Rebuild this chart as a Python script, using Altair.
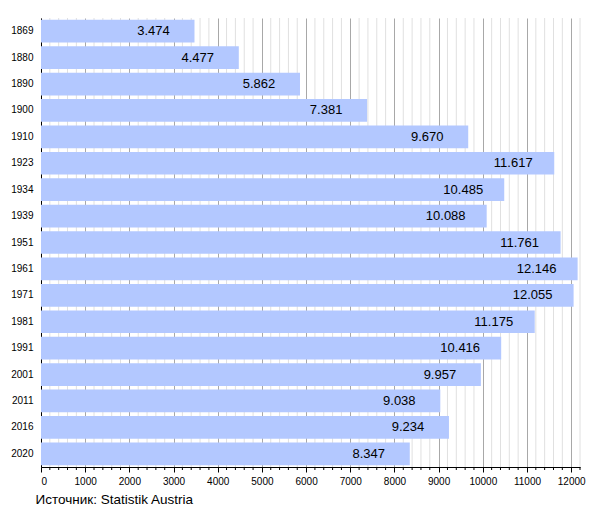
import altair as alt
import pandas as pd

years = ["1869", "1880", "1890", "1900", "1910", "1923", "1934", "1939", "1951",
         "1961", "1971", "1981", "1991", "2001", "2011", "2016", "2020"]
population = [3474, 4477, 5862, 7381, 9670, 11617, 10485, 10088, 11761,
              12146, 12055, 11175, 10416, 9957, 9038, 9234, 8347]
major_ticks = list(range(0, 12001, 1000))
minor_ticks = [v for v in range(0, 12201, 200) if v % 1000 != 0]
source_text = "Источник: Statistik Austria"

W, H = 539, 449

df = pd.DataFrame({
    "year": years,
    "pop": population,
    "label": [f"{v:,}".replace(",", ".") for v in population],
})
minor_df = pd.DataFrame({"tick": minor_ticks})

FONT = "Liberation Sans"
xscale = alt.Scale(domain=[0, 12200], nice=False, zero=True)
xaxis = alt.Axis(values=major_ticks, format="d",
                 title=source_text, titleFont=FONT, titleFontSize=13.5,
                 titleFontWeight="normal", titleColor="black",
                 titleAnchor="start", titleAlign="left", titleX=-6, titleY=32,
                 titleBaseline="middle",
                 grid=True, gridColor="#a8a8a8", gridWidth=1,
                 tickSize=5, tickColor="black", domainColor="black",
                 labelFont=FONT, labelFontSize=10, labelColor="black",
                 labelPadding=4)
yenc = alt.Y("year:N", sort=None,
             scale=alt.Scale(paddingInner=0.14, paddingOuter=0.07),
             axis=alt.Axis(title=None, ticks=False, labelPadding=8, labelFontSize=10,
                           labelFont=FONT, labelColor="black", domainColor="black",
                           grid=False))

minor_grid = alt.Chart(minor_df).mark_rule(color="#e0e0e0", strokeWidth=1).encode(
    x=alt.X("tick:Q", scale=xscale, axis=xaxis),
    y=alt.value(0), y2=alt.value(H),
)
minor_tick = alt.Chart(minor_df).mark_rule(color="black", strokeWidth=1).encode(
    x=alt.X("tick:Q", scale=xscale, axis=xaxis),
    y=alt.value(H), y2=alt.value(H + 3),
)

bars = alt.Chart(df).mark_bar(color="#b3c8ff").encode(
    x=alt.X("pop:Q", scale=xscale, axis=xaxis),
    y=yenc,
)

text = alt.Chart(df).mark_text(align="center", baseline="middle", dx=-41,
                               font=FONT, fontSize=13, color="black").encode(
    x=alt.X("pop:Q", scale=xscale, axis=xaxis),
    y=yenc,
    text="label:N",
)

chart = alt.layer(minor_grid, bars, minor_tick, text).properties(
    width=W, height=H,
    autosize=alt.AutoSizeParams(type="none"),
    padding={"left": 33, "top": 10, "right": 12, "bottom": 40},
).configure_view(stroke=None)

chart.save("out.html", embed_options={"renderer": "svg", "actions": False})
